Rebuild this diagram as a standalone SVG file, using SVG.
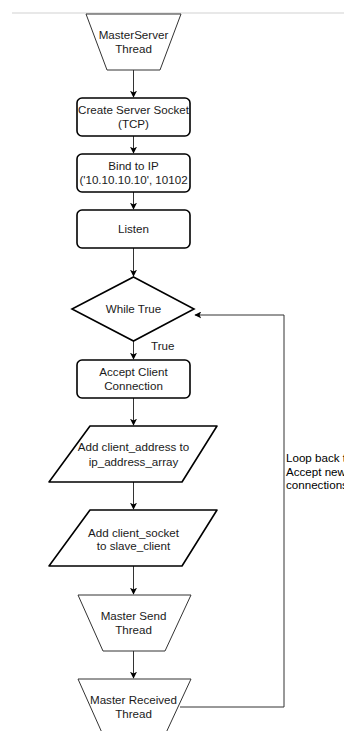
<svg xmlns="http://www.w3.org/2000/svg" width="344" height="731" viewBox="0 0 344 731">
  <style>
    text { font-family: "Liberation Sans", Arial, sans-serif; font-size: 11.6px; fill: #1a1a1a; text-anchor: middle; }
    .proc { fill: #ffffff; stroke: #000000; stroke-width: 1.6; }
    .thread { fill: #ffffff; stroke: #333333; stroke-width: 1; }
    .io { fill: #ffffff; stroke: #000000; stroke-width: 1.6; stroke-linejoin: round; }
    .edge { fill: none; stroke: #333333; stroke-width: 1; }
    .note { text-anchor: start; fill: #000000; }
  </style>
  <defs>
    <marker id="arrow" viewBox="0 0 10 10" refX="9" refY="5" markerWidth="7" markerHeight="7" markerUnits="userSpaceOnUse" orient="auto">
      <path d="M0,0 L10,5 L0,10 L2.5,5 Z" fill="#000000"/>
    </marker>
  </defs>
  <rect width="344" height="731" fill="#ffffff"/>
  <!-- page header rule -->
  <rect x="12" y="12" width="332" height="2" fill="#e8e8e8"/>

  <g id="connectors">
    <line class="edge" x1="133.5" y1="70" x2="133.5" y2="97" marker-end="url(#arrow)"/>
    <line class="edge" x1="133.5" y1="136" x2="133.5" y2="153" marker-end="url(#arrow)"/>
    <line class="edge" x1="133.5" y1="192" x2="133.5" y2="209" marker-end="url(#arrow)"/>
    <line class="edge" x1="133.5" y1="248" x2="133.5" y2="276" marker-end="url(#arrow)"/>
    <line class="edge" x1="133.5" y1="341" x2="133.5" y2="359" marker-end="url(#arrow)"/>
    <line class="edge" x1="133.5" y1="398" x2="133.5" y2="425" marker-end="url(#arrow)"/>
    <line class="edge" x1="133.5" y1="482" x2="133.5" y2="509" marker-end="url(#arrow)"/>
    <line class="edge" x1="133.5" y1="566" x2="133.5" y2="594" marker-end="url(#arrow)"/>
    <line class="edge" x1="133.5" y1="651" x2="133.5" y2="678" marker-end="url(#arrow)"/>
    <polyline class="edge" points="180,707 284,707 284,315 195,315" marker-end="url(#arrow)"/>
    <text x="151" y="350" style="text-anchor:start">True</text>
    <text class="note" x="286" y="462">Loop back to</text>
    <text class="note" x="286" y="476">Accept new</text>
    <text class="note" x="286" y="489">connections</text>
  </g>

  <g id="master-server-thread">
    <polygon class="thread" points="86,14 181,14 160,70 107,70"/>
    <text x="133.5" y="39">MasterServer</text>
    <text x="133.5" y="53">Thread</text>
  </g>

  <g id="create-socket">
    <rect class="proc" x="77" y="98" width="113" height="38" rx="5"/>
    <text x="133.5" y="114">Create Server Socket</text>
    <text x="133.5" y="128">(TCP)</text>
  </g>

  <g id="bind">
    <rect class="proc" x="77" y="154" width="113" height="38" rx="5"/>
    <text x="133.5" y="170">Bind to IP</text>
    <text x="133.5" y="184">('10.10.10.10', 10102</text>
  </g>

  <g id="listen">
    <rect class="proc" x="77" y="210" width="113" height="38" rx="5"/>
    <text x="133.5" y="233">Listen</text>
  </g>

  <g id="while-true">
    <polygon class="proc" points="133.5,277 194,309 133.5,341 72,309" stroke-linejoin="miter"/>
    <text x="133.5" y="313">While True</text>
  </g>

  <g id="accept">
    <rect class="proc" x="77" y="360" width="113" height="38" rx="5"/>
    <text x="133.5" y="376">Accept Client</text>
    <text x="133.5" y="390">Connection</text>
  </g>

  <g id="add-address">
    <polygon class="io" points="90,426 217,426 182,482 49,482"/>
    <text x="133.5" y="451">Add client_address to</text>
    <text x="133.5" y="466">ip_address_array</text>
  </g>

  <g id="add-socket">
    <polygon class="io" points="90,510 217,510 182,566 49,566"/>
    <text x="133.5" y="537">Add client_socket</text>
    <text x="133.5" y="550">to slave_client</text>
  </g>

  <g id="master-send-thread">
    <polygon class="thread" points="78,595 191,595 165,651 103,651"/>
    <text x="133.5" y="620">Master Send</text>
    <text x="133.5" y="634">Thread</text>
  </g>

  <g id="master-received-thread">
    <polygon class="thread" points="78,679 191,679 165,735 103,735"/>
    <text x="133.5" y="704">Master Received</text>
    <text x="133.5" y="718">Thread</text>
  </g>
</svg>
